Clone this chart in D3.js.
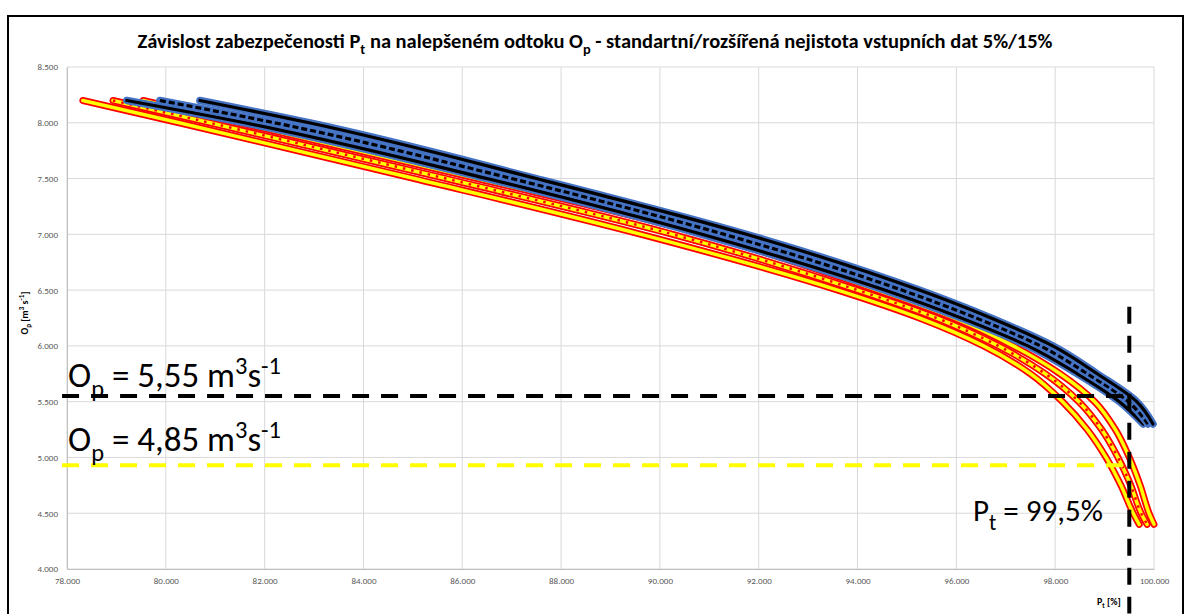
<!DOCTYPE html>
<html>
<head>
<meta charset="utf-8">
<script src="https://cdn.jsdelivr.net/npm/d3@7"></script>
<style>
  html, body { margin: 0; padding: 0; background: #fff; }
  svg { display: block; }
</style>
</head>
<body>
<div id="chart"></div>
<script>
// ---------------- DATA ----------------
const xTicks = [78, 80, 82, 84, 86, 88, 90, 92, 94, 96, 98, 100];
const yTicks = [4.0, 4.5, 5.0, 5.5, 6.0, 6.5, 7.0, 7.5, 8.0, 8.5];

// standard uncertainty 5 % (blue/black)
const opStd = [8.2, 8.0, 7.5, 7.0, 6.5, 6.25, 6.0, 5.75, 5.5, 5.3];
const ptStdUpper = [80.69, 82.9, 87.5, 91.75, 95.25, 96.7, 97.95, 98.85, 99.65, 99.98];
const ptStdMid   = [79.88, 82.2, 87.0, 91.3, 94.9, 96.4, 97.7, 98.65, 99.48, 99.88];
const ptStdLower = [79.21, 81.6, 86.5, 90.85, 94.55, 96.1, 97.45, 98.45, 99.3, 99.78];

// extended uncertainty 15 % (red/yellow)
const opExt = [8.2, 8.0, 7.5, 7.0, 6.5, 6.25, 6.0, 5.75, 5.5, 5.25, 5.0, 4.75, 4.5, 4.4];
const ptExtUpper = [79.54, 81.5, 86.3, 90.9, 94.4, 95.95, 97.15, 98.1, 98.8, 99.22, 99.5, 99.72, 99.9, 100.0];
const ptExtMid   = [78.93, 80.89, 85.67, 90.26, 94.0, 95.6, 96.85, 97.8, 98.48, 98.94, 99.27, 99.53, 99.74, 99.86];
const ptExtLower = [78.32, 80.27, 85.03, 89.62, 93.6, 95.25, 96.55, 97.5, 98.15, 98.65, 99.03, 99.33, 99.58, 99.7];

// annotation guide lines
const opLineStd = 5.55;       // black dashed horizontal
const opLineExt = 4.93;       // yellow dashed horizontal
const hLineFromTo = [77.9, 99.5];
const ptLine = 99.5;          // vertical dashed
const ptLineFromTo = [6.35, 3.6];

// ---------------- LAYOUT ----------------
const W = 1192, H = 614;
const svg = d3.select("#chart").append("svg").attr("width", W).attr("height", H);

const x = d3.scaleLinear().domain([78, 100]).range([67, 1154]);
const y = d3.scaleLinear().domain([4, 8.5]).range([569, 67]);

const FONT = "Calibri, Carlito, 'Open Sans', 'Liberation Sans', sans-serif";

// frame
svg.append("rect").attr("x", 8).attr("y", 16).attr("width", 1175).attr("height", 620)
  .attr("fill", "#fff").attr("stroke", "#000").attr("stroke-width", 2);

// gridlines
const grid = svg.append("g");
grid.selectAll("line.gx").data(xTicks).join("line")
  .attr("x1", d => x(d)).attr("x2", d => x(d)).attr("y1", y(8.5)).attr("y2", y(4))
  .attr("stroke", "#d9d9d9").attr("stroke-width", 1);
grid.selectAll("line.gy").data(yTicks).join("line")
  .attr("y1", d => y(d)).attr("y2", d => y(d)).attr("x1", x(78)).attr("x2", x(100))
  .attr("stroke", "#d9d9d9").attr("stroke-width", 1);

// axes
const fmt = d3.format(".3f");
const xAxis = svg.append("g").attr("transform", `translate(0,${y(4)})`)
  .call(d3.axisBottom(x).tickValues(xTicks).tickFormat(fmt).tickSize(0).tickPadding(9));
const yAxis = svg.append("g").attr("transform", `translate(${x(78)},0)`)
  .call(d3.axisLeft(y).tickValues(yTicks).tickFormat(fmt).tickSize(0).tickPadding(9));
[xAxis, yAxis].forEach(a => {
  a.select(".domain").attr("stroke", "#bfbfbf").attr("stroke-width", 1);
  a.selectAll("text").attr("fill", "#595959").attr("font-family", FONT).attr("font-size", 9);
});

// curves
const line = d3.line().x(d => x(d.pt)).y(d => y(d.op)).curve(d3.curveMonotoneY);
const mk = (ops, pts) => ops.map((op, i) => ({op, pt: pts[i]}));

const ext = [mk(opExt, ptExtLower), mk(opExt, ptExtMid), mk(opExt, ptExtUpper)];
const std = [mk(opStd, ptStdLower), mk(opStd, ptStdMid), mk(opStd, ptStdUpper)];

const curves = svg.append("g").attr("fill", "none").attr("stroke-linecap", "round").attr("stroke-linejoin", "round");

// red/yellow group
ext.forEach(c => {
  curves.append("path").attr("d", line(c)).attr("stroke", "#ff0000").attr("stroke-width", 7);
  curves.append("path").attr("d", line(c)).attr("stroke", "#ffff00").attr("stroke-width", 3.5);
});
curves.append("path").attr("d", line(ext[1])).attr("stroke", "#ff0000").attr("stroke-width", 2.5)
  .attr("stroke-linecap", "butt").attr("stroke-dasharray", "2.5,6");

// blue/black group
std.forEach((c, i) => {
  curves.append("path").attr("d", line(c)).attr("stroke", "#4472c4").attr("stroke-width", 7.5);
  curves.append("path").attr("d", line(c)).attr("stroke", "#000").attr("stroke-width", 3.2)
    .attr("stroke-dasharray", i === 1 ? "6,3" : null).attr("stroke-linecap", i === 1 ? "butt" : "round");
});

// guide lines
const guides = svg.append("g").attr("stroke-width", 4).attr("stroke-dasharray", "17,12");
guides.append("line").attr("x1", x(hLineFromTo[0])).attr("x2", x(hLineFromTo[1]))
  .attr("y1", y(opLineStd)).attr("y2", y(opLineStd)).attr("stroke", "#000");
guides.append("line").attr("x1", x(hLineFromTo[0])).attr("x2", x(hLineFromTo[1]))
  .attr("y1", y(opLineExt)).attr("y2", y(opLineExt)).attr("stroke", "#ffff00");
guides.append("line").attr("x1", x(ptLine)).attr("x2", x(ptLine))
  .attr("y1", y(ptLineFromTo[0])).attr("y2", y(ptLineFromTo[1])).attr("stroke", "#000");

// text helper: sub/sup via dy shifts
function richText(parent, parts, opts) {
  const t = parent.append("text").attr("x", opts.x).attr("y", opts.y)
    .attr("font-family", FONT).attr("font-size", opts.size)
    .attr("font-weight", opts.weight || "normal").attr("fill", opts.fill || "#000")
    .attr("text-anchor", opts.anchor || "start");
  function build(size) {
    t.selectAll("tspan").remove();
    let shift = 0;
    parts.forEach(p => {
      const ts = t.append("tspan").text(p.t);
      let target = 0;
      if (p.sub) target = 0.28 * size;
      if (p.sup) target = -0.38 * size;
      ts.attr("dy", target - shift);
      shift = target;
      if (p.sub || p.sup) ts.attr("font-size", size * 0.7);
    });
  }
  build(opts.size);
  if (opts.width) {
    const w = t.node().getComputedTextLength();
    if (w > 0) {
      const s = opts.size * opts.width / w;
      t.attr("font-size", s);
      build(s);
    }
  }
  return t;
}

// title
richText(svg, [
  {t: "Závislost zabezpečenosti P"}, {t: "t", sub: true},
  {t: " na nalepšeném odtoku O"}, {t: "p", sub: true},
  {t: "  - standartní/rozšířená nejistota vstupních dat 5%/15%"}
], {x: 595, y: 48, size: 17, weight: "bold", anchor: "middle", width: 916});

// axis titles
richText(svg, [{t: "P"}, {t: "t", sub: true}, {t: " [%]"}],
  {x: 1097, y: 605, size: 10, weight: "bold", anchor: "start"});
const yt = richText(svg, [{t: "O"}, {t: "p", sub: true}, {t: " [m"}, {t: "3", sup: true}, {t: " s"}, {t: "-1", sup: true}, {t: "]"}],
  {x: 0, y: 0, size: 10, weight: "bold", anchor: "middle"});
yt.attr("transform", "translate(28,313) rotate(-90)");

// annotations
richText(svg, [{t: "O"}, {t: "p", sub: true}, {t: " = 5,55 m"}, {t: "3", sup: true}, {t: "s"}, {t: "-1", sup: true}],
  {x: 68, y: 387, size: 24, width: 213});
richText(svg, [{t: "O"}, {t: "p", sub: true}, {t: " = 4,85 m"}, {t: "3", sup: true}, {t: "s"}, {t: "-1", sup: true}],
  {x: 68, y: 451, size: 24, width: 213});
richText(svg, [{t: "P"}, {t: "t", sub: true}, {t: " = 99,5%"}],
  {x: 973, y: 521, size: 24, width: 130});
</script>
</body>
</html>
